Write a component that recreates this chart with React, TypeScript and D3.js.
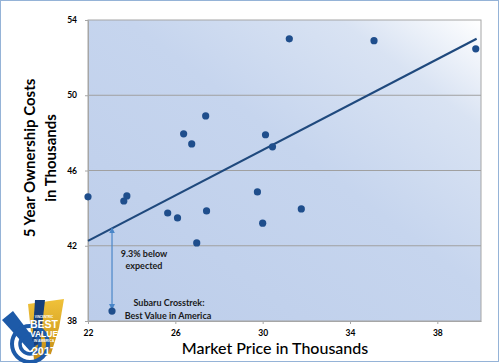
import React, { useEffect, useRef } from 'react';
import * as d3 from 'd3';

// Market price (thousands) vs 5 year ownership cost (thousands)
const marketPrice = [22.0, 23.64, 23.78, 25.65, 26.1, 27.43, 26.98, 23.1, 26.38, 26.75, 27.39, 31.22, 35.1, 39.76, 30.13, 30.45, 29.76, 31.77, 30.0];
const ownershipCost = [44.6, 44.38, 44.65, 43.74, 43.48, 43.85, 42.15, 38.53, 47.95, 47.41, 48.9, 53.0, 52.9, 52.47, 47.9, 47.26, 44.86, 43.96, 43.2];

// expected-cost trend line end points
const trendX = [22, 39.8];
const trendY = [42.26, 53.0];

const xTicks = [22, 26, 30, 34, 38];
const yTicks = [38, 42, 46, 50, 54];
const gridValues = [42, 46, 50];

const highlightX = 23.1;
const highlightY = 38.53;

export default function App() {
  const svgRef = useRef<SVGSVGElement>(null);

  useEffect(() => {
    if (!svgRef.current) return;
    const svg = d3.select(svgRef.current);
    svg.selectAll('*').remove();

    const W = 500, H = 363;
    const left = 88, right = 481, top = 20, bottom = 321;

    const x = d3.scaleLinear().domain([22, 40]).range([left, right]);
    const y = d3.scaleLinear().domain([38, 54]).range([bottom, top]);

    const defs = svg.append('defs');
    const grad = defs.append('linearGradient')
      .attr('id', 'plotBg')
      .attr('x1', 0).attr('y1', 1).attr('x2', 1).attr('y2', 0);
    grad.append('stop').attr('offset', '0%').attr('stop-color', '#bccdea');
    grad.append('stop').attr('offset', '55%').attr('stop-color', '#c6d5ee');
    grad.append('stop').attr('offset', '82%').attr('stop-color', '#d9e3f3');
    grad.append('stop').attr('offset', '100%').attr('stop-color', '#ffffff');

    const gold = defs.append('linearGradient')
      .attr('id', 'gold').attr('x1', 0).attr('y1', 0).attr('x2', 0).attr('y2', 1);
    gold.append('stop').attr('offset', '0%').attr('stop-color', '#f0c23a');
    gold.append('stop').attr('offset', '100%').attr('stop-color', '#c48c14');

    const marker = (id: string, path: string) => defs.append('marker')
      .attr('id', id)
      .attr('viewBox', '0 0 10 10')
      .attr('refX', 5).attr('refY', 5)
      .attr('markerWidth', 5).attr('markerHeight', 5)
      .attr('orient', 'auto')
      .append('path').attr('d', path).attr('fill', '#4a86c8');
    marker('arrowEnd', 'M0,0 L10,5 L0,10 z');
    marker('arrowStart', 'M10,0 L0,5 L10,10 z');

    // outer frame
    svg.append('rect')
      .attr('x', 0.5).attr('y', 0.5)
      .attr('width', W - 2).attr('height', H - 2)
      .attr('fill', '#fff')
      .attr('stroke', '#95b3d7');

    // plot area
    svg.append('rect')
      .attr('x', left).attr('y', top)
      .attr('width', right - left).attr('height', bottom - top)
      .attr('fill', 'url(#plotBg)')
      .attr('stroke', '#a6a6a6')
      .attr('stroke-width', 1);

    svg.append('g')
      .selectAll('line')
      .data(gridValues)
      .join('line')
      .attr('x1', left).attr('x2', right)
      .attr('y1', d => y(d)).attr('y2', d => y(d))
      .attr('stroke', '#a0a0a0');

    // axes
    const yAxis = svg.append('g')
      .attr('transform', `translate(${left},0)`)
      .call(d3.axisLeft(y).tickValues(yTicks).tickSize(3).tickPadding(8).tickSizeOuter(0));
    const xAxis = svg.append('g')
      .attr('transform', `translate(0,${bottom})`)
      .call(d3.axisBottom(x).tickValues(xTicks).tickSize(3).tickPadding(5.5).tickSizeOuter(0));
    [xAxis, yAxis].forEach(a => {
      a.select('.domain').attr('stroke', '#a6a6a6');
      a.selectAll('.tick line').attr('stroke', '#a6a6a6');
      a.selectAll('.tick text')
        .attr('fill', '#000')
        .style('font-family', 'Lato, sans-serif')
        .style('font-weight', 'bold')
        .style('font-size', '8.5px');
    });

    // trend line
    svg.append('path')
      .datum(trendX.map((v, i) => [v, trendY[i]] as [number, number]))
      .attr('fill', 'none')
      .attr('stroke', '#1f497d')
      .attr('stroke-width', 2.2)
      .attr('d', d3.line<[number, number]>().x(d => x(d[0])).y(d => y(d[1])));

    // arrow from expected to actual
    const slope = (trendY[1] - trendY[0]) / (trendX[1] - trendX[0]);
    const expected = trendY[0] + slope * (highlightX - trendX[0]);
    svg.append('line')
      .attr('x1', x(highlightX)).attr('x2', x(highlightX))
      .attr('y1', y(expected) + 2).attr('y2', y(highlightY) - 4)
      .attr('stroke', '#4a86c8')
      .attr('stroke-width', 1.2)
      .attr('marker-start', 'url(#arrowStart)')
      .attr('marker-end', 'url(#arrowEnd)');

    // points
    svg.append('g')
      .selectAll('circle')
      .data(marketPrice.map((v, i) => [v, ownershipCost[i]]))
      .join('circle')
      .attr('cx', d => x(d[0]))
      .attr('cy', d => y(d[1]))
      .attr('r', 3.6)
      .attr('fill', '#1f4e8c');

    const note = (tx: number, ty: number, s: string) => svg.append('text')
      .attr('x', tx).attr('y', ty)
      .attr('text-anchor', 'middle')
      .style('font-family', 'Lato, sans-serif')
      .style('font-weight', 'bold')
      .style('font-size', '9px')
      .attr('fill', '#1a1a1a')
      .text(s);
    note(144, 257, '9.3% below');
    note(144, 268.5, 'expected');
    note(169, 305.5, 'Subaru Crosstrek:');
    note(168, 319, 'Best Value in America');

    // axis titles
    const yTitle = svg.append('text')
      .attr('transform', 'translate(35,158) rotate(-90)')
      .attr('text-anchor', 'middle')
      .style('font-family', 'Lato, sans-serif')
      .style('font-weight', 'bold')
      .style('font-size', '15px')
      .attr('fill', '#000');
    yTitle.append('tspan').attr('x', 0).attr('y', 0).text('5 Year Ownership Costs');
    yTitle.append('tspan').attr('x', 0).attr('y', 21).text('in Thousands');

    svg.append('text')
      .attr('x', 275).attr('y', 354)
      .attr('text-anchor', 'middle')
      .style('font-family', 'Lato, sans-serif')
      .style('font-weight', 500)
      .style('font-size', '16px')
      .attr('fill', '#000')
      .text('Market Price in Thousands');

    // badge
    const logo = svg.append('g');
    logo.append('path')
      .attr('d', 'M28,304 L64,299 L59,328 L51,354 L34,360 Z')
      .attr('fill', 'url(#gold)');
    logo.append('path')
      .attr('d', 'M2,320 L13,311 L38,344 L30,351 Z')
      .attr('fill', '#1d5aa8');
    logo.append('path')
      .attr('d', 'M35,300 L45,300 L40,344 L32,346 Z')
      .attr('fill', '#163f7a');
    logo.append('circle').attr('cx', 30).attr('cy', 344).attr('r', 18)
      .attr('fill', 'none').attr('stroke', '#1d5aa8').attr('stroke-width', 4);
    logo.append('circle').attr('cx', 30).attr('cy', 344).attr('r', 10)
      .attr('fill', 'none').attr('stroke', '#1d5aa8').attr('stroke-width', 3.5);
    logo.append('circle').attr('cx', 30).attr('cy', 344).attr('r', 4)
      .attr('fill', '#1d5aa8');
    const logoText = (tx: number, ty: number, size: number, s: string) => logo.append('text')
      .attr('x', tx).attr('y', ty)
      .attr('text-anchor', 'middle')
      .style('font-family', '"Liberation Sans", sans-serif')
      .style('font-weight', 'bold')
      .style('font-size', `${size}px`)
      .attr('fill', '#fff')
      .text(s);
    logoText(44, 318, 3, 'VINCENTRIC');
    logoText(44, 328, 10.5, 'BEST');
    logoText(44, 337, 8.5, 'VALUE');
    logoText(44, 342, 3.5, 'IN AMERICA');
    logoText(44, 355, 11, '2017');
  }, []);

  return (
    <div style={{ position: 'absolute', left: 0, top: 0 }}>
      <svg ref={svgRef} width={500} height={363} style={{ display: 'block' }} />
    </div>
  );
}
